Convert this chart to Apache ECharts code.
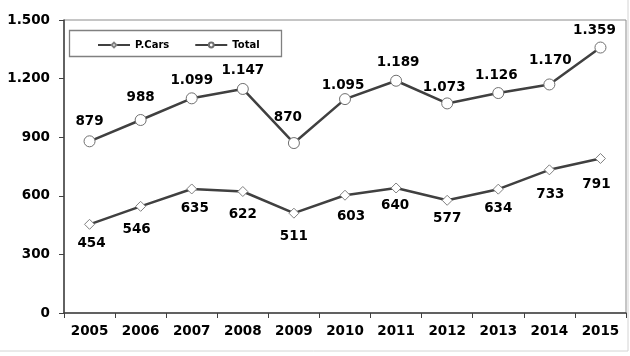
<!DOCTYPE html>
<html><head><meta charset="utf-8">
<script src="https://cdn.jsdelivr.net/npm/echarts@6/dist/echarts.min.js"></script>
<style>html,body{margin:0;padding:0;background:#fff}#c{width:630px;height:356px}</style>
</head><body><div id="c"></div>
<script>
const years = ['2005','2006','2007','2008','2009','2010','2011','2012','2013','2014','2015'];
const pCars = [454,546,635,622,511,603,640,577,634,733,791];
const total = [879,988,1099,1147,870,1095,1189,1073,1126,1170,1359];
const yTicks = [0,300,600,900,1200,1500];

// label nudges (layout only): [dx, dy]
const totalNudge = [[0,-2],[0,-5],[0,0],[0,0],[-6,-8],[-2,4],[2,0],[-3,2],[-2,0],[1,-6],[-6,1]];
const carsNudge  = [[2,-1],[-4,3],[3,-1],[0,2],[0,3],[6,1],[-1,-3],[0,-2],[0,-1],[1,4],[-4,6]];

const fmt = v => { const s = String(v); return s.length > 3 ? s.slice(0, s.length-3) + '.' + s.slice(-3) : s; };
const lblFont = {fontFamily:'DejaVu Sans', fontWeight:'bold', fontSize:13.5, color:'#000'};

const chart = echarts.init(document.getElementById('c'), null, {renderer:'canvas'});
chart.setOption({
  animation:false,
  backgroundColor:'#fff',
  grid:{left:64, right:4, top:20, bottom:43, show:true, borderColor:'#8c8c8c', borderWidth:1, backgroundColor:'transparent'},
  graphic:[
    {type:'rect', shape:{x:-1, y:-1, width:629, height:352}, style:{fill:'none', stroke:'#d4d4d4', lineWidth:1}, z:0},
    {type:'rect', shape:{x:69.5, y:30.5, width:212, height:26}, style:{fill:'#fff', stroke:'#808080', lineWidth:1.3}, z:5}
  ],
  legend:{
    left:97, top:40, padding:0, itemWidth:32, itemHeight:6, itemGap:25, z:10,
    textStyle:{fontFamily:'DejaVu Sans', fontWeight:'bold', fontSize:10, color:'#000'},
    data:['P.Cars','Total']
  },
  xAxis:{
    type:'category', data:years, boundaryGap:true,
    axisLine:{lineStyle:{color:'#404040', width:1.5}},
    axisTick:{show:true, length:5, inside:false, alignWithLabel:false, lineStyle:{color:'#404040', width:1}},
    axisLabel:{margin:11, ...lblFont}
  },
  yAxis:{
    type:'value', min:yTicks[0], max:yTicks[yTicks.length-1], interval:yTicks[1]-yTicks[0],
    splitLine:{show:false},
    axisLine:{show:true, lineStyle:{color:'#404040', width:1.5}},
    axisTick:{show:true, length:5, lineStyle:{color:'#404040', width:1}},
    axisLabel:{margin:14, formatter:fmt, ...lblFont}
  },
  series:[
    {
      name:'P.Cars', type:'line', symbol:'diamond', symbolSize:10,
      lineStyle:{color:'#404040', width:2.5},
      itemStyle:{color:'#fff', borderColor:'#808080', borderWidth:1},
      data: pCars.map((v,i)=>({value:v, label:{offset:carsNudge[i]}})),
      label:{show:true, position:'bottom', distance:8, formatter:p=>fmt(p.value), ...lblFont},
      z:3
    },
    {
      name:'Total', type:'line', symbol:'circle', symbolSize:11,
      lineStyle:{color:'#404040', width:2.5},
      itemStyle:{color:'#fff', borderColor:'#707070', borderWidth:1},
      data: total.map((v,i)=>({value:v, label:{offset:totalNudge[i]}})),
      label:{show:true, position:'top', distance:5, formatter:p=>fmt(p.value), ...lblFont},
      z:3
    }
  ]
});
</script></body></html>
